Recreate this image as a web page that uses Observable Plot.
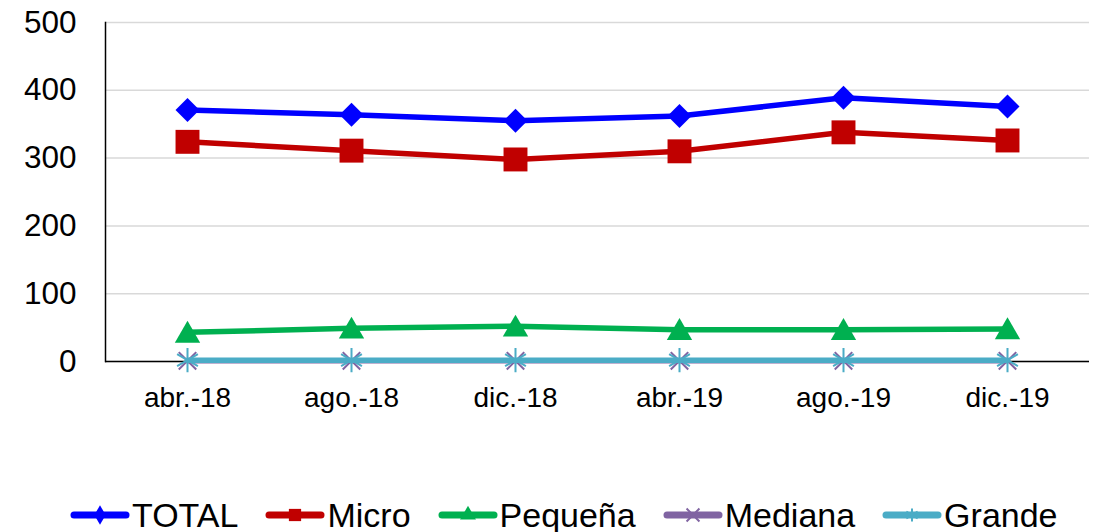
<!DOCTYPE html>
<html>
<head>
<meta charset="utf-8">
<script src="https://cdn.jsdelivr.net/npm/d3@7"></script>
<script src="https://cdn.jsdelivr.net/npm/@observablehq/plot@0.6"></script>
<style>
  html, body { margin: 0; padding: 0; background: #fff; }
  body { width: 1102px; height: 532px; overflow: hidden; font-family: "Liberation Sans", Arial, sans-serif; }
  #legend { display: flex; align-items: center; height: 40px; margin-top: 75px; padding-left: 70px; font-size: 34px; color: #000; }
  .item { display: flex; align-items: center; margin-right: 27px; }
  .item svg { margin-right: 2px; }
</style>
</head>
<body>
<div id="chart"></div>
<div id="legend"></div>
<script>
const months = ["abr.-18", "ago.-18", "dic.-18", "abr.-19", "ago.-19", "dic.-19"];
const total   = [371, 364, 355, 362, 389, 376];
const micro   = [324, 311, 298, 310, 338, 326];
const pequena = [43, 49, 52, 47, 47, 48];
const mediana = [1, 1, 1, 1, 1, 1];
const grande  = [2, 2, 2, 2, 2, 2];
const yTicks  = [0, 100, 200, 300, 400, 500];

const seriesNames = ["TOTAL", "Micro", "Pequeña", "Mediana", "Grande"];
const seriesValues = [total, micro, pequena, mediana, grande];
const colors = ["#0000ff", "#c00000", "#00b050", "#8064a2", "#4bacc6"];

const styles = [
  {symbol: "diamond2", r: 10.8, fill: colors[0], stroke: "none", dy: 0},
  {symbol: "square", r: 13.5, fill: colors[1], stroke: "none", dy: 0},
  {symbol: "triangle", r: 9.4, fill: colors[2], stroke: "none", dy: 3},
  {symbol: "times", r: 8, fill: "none", stroke: colors[3], dy: 0},
  {symbol: "asterisk", r: 11.4, fill: "none", stroke: colors[4], dy: 0}
];

const marks = [
  Plot.gridY(yTicks, {stroke: "#d9d9d9", strokeOpacity: 1, strokeWidth: 1.5}),
  Plot.axisY(yTicks, {tickSize: 0, tickPadding: 29, fontSize: 31.5, label: null, fill: "#000"}),
  Plot.axisX(months, {tickSize: 0, tickPadding: 26, fontSize: 28, label: null, fill: "#000"}),
  Plot.frame({anchor: "left", stroke: "#000", strokeWidth: 1.5}),
  Plot.ruleY([0], {stroke: "#000", strokeWidth: 1.5})
];

seriesNames.forEach((name, i) => {
  const data = months.map((m, j) => ({month: m, value: seriesValues[i][j]}));
  const s = styles[i];
  marks.push(Plot.line(data, {x: "month", y: "value", stroke: colors[i], strokeWidth: 5.5, strokeLinejoin: "round"}));
  marks.push(Plot.dot(data, {
    x: "month", y: "value", symbol: s.symbol, r: s.r, dy: s.dy,
    fill: s.fill, stroke: s.stroke, strokeWidth: s.stroke === "none" ? 0 : 2
  }));
});

const chart = Plot.plot({
  width: 1102,
  height: 420,
  marginTop: 22,
  marginBottom: 59,
  marginLeft: 105,
  marginRight: 13,
  style: {fontFamily: "'Liberation Sans', Arial, sans-serif", color: "#000", background: "#fff"},
  x: {type: "point", domain: months, padding: 0.5},
  y: {domain: [0, 500]},
  marks
});
document.getElementById("chart").appendChild(chart);

// Legend
const legend = d3.select("#legend");
const legendSymbols = [d3.symbolDiamond, d3.symbolSquare, d3.symbolTriangle, d3.symbolTimes, d3.symbolAsterisk];
const legendSizes = [110, 150, 110, 110, 120];
seriesNames.forEach((name, i) => {
  const item = legend.append("div").attr("class", "item");
  const svg = item.append("svg").attr("width", 60).attr("height", 30);
  svg.append("line").attr("x1", 4).attr("x2", 56).attr("y1", 15).attr("y2", 15)
    .attr("stroke", colors[i]).attr("stroke-width", 7).attr("stroke-linecap", "round");
  const filled = i < 3;
  svg.append("path").attr("transform", "translate(30,15)")
    .attr("d", d3.symbol(legendSymbols[i], legendSizes[i])())
    .attr("fill", filled ? colors[i] : "none")
    .attr("stroke", filled ? "none" : colors[i]).attr("stroke-width", 2);
  item.append("span").text(name);
});
</script>
</body>
</html>
